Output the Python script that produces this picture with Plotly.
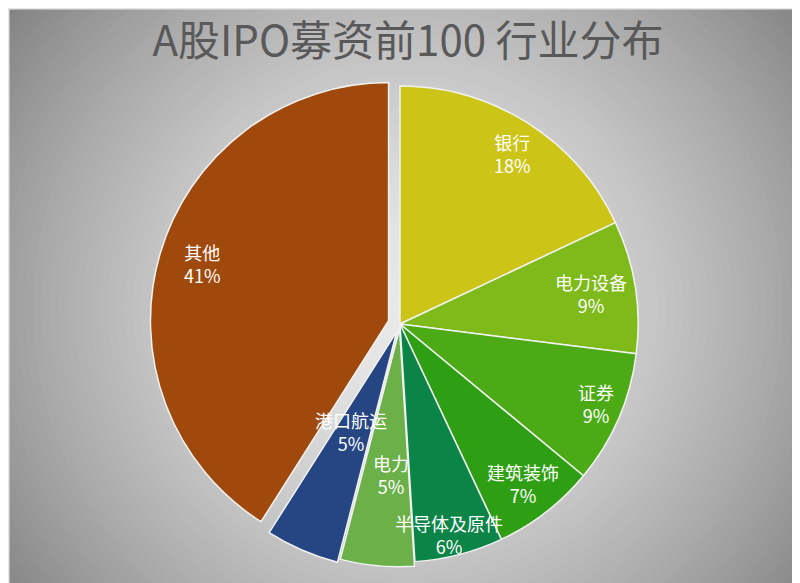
import math
import plotly.graph_objects as go

# Data
industries = ["银行", "电力设备", "证券", "建筑装饰", "半导体及原件", "电力", "港口航运", "其他"]
shares = [18, 9, 9, 7, 6, 5, 5, 41]
pulls = [0, 0, 0, 0, 0, 0.02, 0.035, 0.05]

# Palette / label placement (fraction of radius from centre, angle nudge in degrees)
slice_colors = ["#CDC418", "#7EBA1A", "#4CAA15", "#2E9E12", "#0B8448", "#6CB04A", "#254682", "#A0490C"]
label_r = [0.845, 0.785, 0.86, 0.825, 0.90, 0.617, 0.475, 0.853]
label_nudge = [-1.1, -0.9, -0.6, 1.8, 3.4, 1.1, 4.6, 0.4]
W, H = 800, 583
cx, cy, R = 400, 325, 237

fig = go.Figure()

fig.add_trace(go.Pie(
    labels=industries,
    values=shares,
    sort=False,
    direction="clockwise",
    rotation=0,
    pull=pulls,
    marker=dict(colors=slice_colors, line=dict(color="#F2F2F2", width=1.5)),
    textinfo="none",
    domain=dict(x=[0, 784 / W], y=[17 / H, 517 / H]),
    showlegend=False,
    hoverinfo="label+percent",
))

# slice labels at each slice's mid angle
total = sum(shares)
annotations = []
start = 0.0
for lab, v, p, rf, nd in zip(industries, shares, pulls, label_r, label_nudge):
    mid = start + v / total * 360 / 2 + nd
    start += v / total * 360
    a = math.radians(mid)
    rr = R * (rf + p)
    px = cx + rr * math.sin(a)
    py = cy - rr * math.cos(a)
    annotations.append(dict(
        x=px / W, y=1 - py / H, xref="paper", yref="paper",
        text=f"{lab}<br>{round(v / total * 100)}%", showarrow=False,
        font=dict(color="white", size=18, family="Noto Sans CJK SC"),
        align="center", xanchor="center", yanchor="middle", yshift=8,
    ))

# radial grey backdrop, drawn as stacked circles
shapes = []
bx, by = 400, 300
rmax = 500
n = 60
for i in range(n):
    r = rmax * (1 - i / n)
    g = int(234 - (r / 495) ** 1.5 * 100)
    g = max(120, min(236, g))
    shapes.append(dict(
        type="circle", xref="paper", yref="paper", layer="below",
        x0=(bx - r) / W, x1=(bx + r) / W,
        y0=(H - by - r) / H, y1=(H - by + r) / H,
        fillcolor=f"rgb({g},{g},{g})", line=dict(width=0),
    ))
shapes.append(dict(
    type="rect", xref="paper", yref="paper", layer="below",
    x0=0, x1=1, y0=0, y1=1, line=dict(color="#E6E6E6", width=3),
))

fig.update_layout(
    width=W, height=H,
    margin=dict(l=0, r=0, t=0, b=0),
    paper_bgcolor="#8A8A8A",
    shapes=shapes,
    annotations=annotations,
    title=dict(
        text="A股IPO募资前100 行业分布",
        x=0.5, xanchor="center", y=1 - 33 / H, yanchor="middle",
        font=dict(size=42, color="#595959", family="Noto Sans CJK SC"),
    ),
)

fig.write_html("out.html")
